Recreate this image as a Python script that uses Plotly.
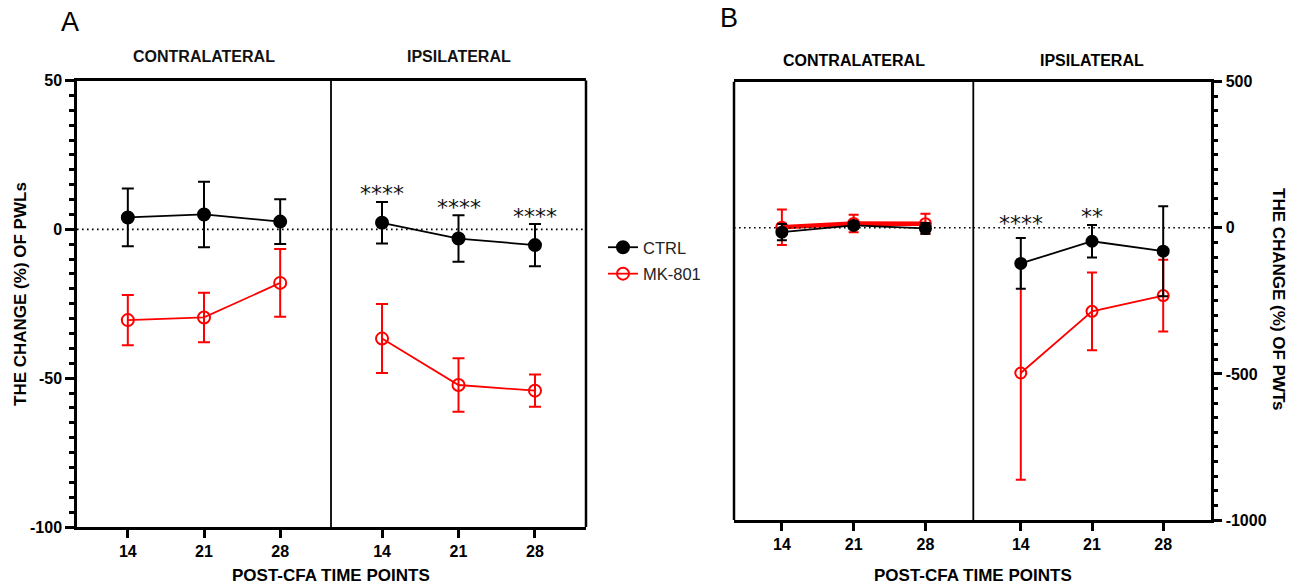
import plotly.graph_objects as go

# ---------------- data ----------------
days = [14, 21, 28]
day_labels = ["14", "21", "28"]

# Panel A (PWLs, %)
a_ctrl_contra = [4.0, 5.0, 2.6]
a_ctrl_contra_err = [9.7, 11.0, 7.5]
a_mk_contra = [-30.5, -29.6, -18.0]
a_mk_contra_err = [8.4, 8.3, 11.4]
a_ctrl_ipsi = [2.2, -3.1, -5.3]
a_ctrl_ipsi_err = [7.0, 7.8, 7.1]
a_mk_ipsi = [-36.7, -52.3, -54.2]
a_mk_ipsi_err = [11.6, 9.0, 5.4]
a_star_days = [14, 21, 28]
a_star_text = ["****", "****", "****"]
a_star_y = [12.1, 7.4, 4.4]
a_ytick_vals = [-100, -50, 0, 50]
a_ytick_text = ["-100", "-50", "0", "50"]

# Panel B (PWTs, %)
b_ctrl_contra = [-15, 8, -2]
b_ctrl_contra_err = [28, 12, 18]
b_mk_contra = [2, 15, 14]
b_mk_contra_err = [61, 30, 34]
b_ctrl_ipsi = [-122, -46, -80]
b_ctrl_ipsi_err = [87, 56, 154]
b_mk_ipsi = [-497, -286, -232]
b_mk_ipsi_err = [365, 133, 123]
b_star_days = [14, 21]
b_star_text = ["****", "**"]
b_star_y = [14, 40]
b_ytick_vals = [-1000, -500, 0, 500]
b_ytick_text = ["-1000", "-500", "0", "500"]

BLACK = "#000000"
RED = "#ff0000"
FONT = "Liberation Sans, Arial, sans-serif"
W, H = 1299, 588

fig = go.Figure()


def add_series(x, y, err, color, filled, xa, ya, name=None, legend=False, rank=1,
               lw=1.8, msize=12, ethick=2, ewidth=6, group=None):
    fig.add_trace(go.Scatter(
        x=x, y=y, mode="lines+markers", name=name, showlegend=legend,
        legendrank=rank, legendgroup=group, xaxis=xa, yaxis=ya,
        line=dict(color=color, width=lw),
        marker=dict(symbol="circle" if filled else "circle-open", size=msize,
                    color=color, line=dict(color=color, width=2)),
        error_y=dict(type="data", array=err, visible=True, color=color,
                     thickness=ethick, width=ewidth),
        hoverinfo="skip",
    ))


# Panel A
add_series(days, a_mk_contra, a_mk_contra_err, RED, False, "x", "y", "MK-801", True, 2, group="mk")
add_series(days, a_ctrl_contra, a_ctrl_contra_err, BLACK, True, "x", "y", "CTRL", True, 1, group="ctrl")
add_series(days, a_mk_ipsi, a_mk_ipsi_err, RED, False, "x2", "y")
add_series(days, a_ctrl_ipsi, a_ctrl_ipsi_err, BLACK, True, "x2", "y")

# Panel B
add_series(days, b_mk_contra, b_mk_contra_err, RED, False, "x3", "y2", lw=4.5, msize=11, ewidth=5)
add_series(days, b_ctrl_contra, b_ctrl_contra_err, BLACK, True, "x3", "y2", lw=1.8, msize=11, ewidth=5)
add_series(days, b_mk_ipsi, b_mk_ipsi_err, RED, False, "x4", "y2", msize=11, ewidth=5)
add_series(days, b_ctrl_ipsi, b_ctrl_ipsi_err, BLACK, True, "x4", "y2", msize=11, ewidth=5)

tickfont = dict(family=FONT, size=16, color=BLACK, weight="bold")


def xax(dom, anchor):
    return dict(domain=[dom[0] / W, dom[1] / W], range=[9.33, 32.67],
                tickmode="array", tickvals=days, ticktext=day_labels,
                ticks="outside", ticklen=8, tickwidth=2.5, tickcolor=BLACK,
                showline=True, linewidth=2.5, linecolor=BLACK, mirror=True,
                showgrid=False, zeroline=False, anchor=anchor, tickfont=tickfont,
                automargin=False, fixedrange=True)


def yax(dom, rng, vals, text, minor_dt, anchor, side):
    return dict(domain=[1 - dom[1] / H, 1 - dom[0] / H], range=rng,
                tickmode="array", tickvals=vals, ticktext=text,
                ticks="outside", ticklen=9, tickwidth=2.5, tickcolor=BLACK,
                minor=dict(dtick=minor_dt, tick0=0, ticks="outside", ticklen=5,
                           tickwidth=2.5, tickcolor=BLACK),
                showline=True, linewidth=2.5, linecolor=BLACK,
                showgrid=False, zeroline=False, anchor=anchor, side=side,
                tickfont=tickfont, automargin=False, fixedrange=True)


fig.update_layout(
    width=W, height=H,
    margin=dict(l=0, r=0, t=0, b=0, autoexpand=False),
    paper_bgcolor="white", plot_bgcolor="white",
    xaxis=xax((77, 331), "y"),
    xaxis2=xax((331, 586), "y"),
    xaxis3=xax((734, 973.3), "y2"),
    xaxis4=xax((973.3, 1210.7), "y2"),
    yaxis=yax((80.5, 527), [-100, 50], a_ytick_vals, a_ytick_text, 5, "x", "left"),
    yaxis2=yax((81.7, 520), [-1000, 500], b_ytick_vals, b_ytick_text, 50, "x4", "right"),
    legend=dict(x=603 / W, y=1 - 230 / H, xanchor="left", yanchor="top",
                font=dict(family=FONT, size=16.5, color="#222222"),
                bgcolor="rgba(0,0,0,0)", traceorder="grouped", tracegroupgap=2),
)

shapes = []
for xr, xv, w in [("x domain", 1, 1.8), ("x2 domain", 1, 2.5),
                  ("x3 domain", 0, 2.5), ("x3 domain", 1, 1.8)]:
    yr = "y domain" if xr in ("x domain", "x2 domain") else "y2 domain"
    shapes.append(dict(type="line", xref=xr, yref=yr, x0=xv, x1=xv, y0=0, y1=1,
                       line=dict(color=BLACK, width=w)))
for xr, yr in [("x domain", "y"), ("x2 domain", "y"), ("x3 domain", "y2"), ("x4 domain", "y2")]:
    shapes.append(dict(type="line", xref=xr, yref=yr, x0=0, x1=1, y0=0, y1=0,
                       line=dict(color=BLACK, width=1.6, dash="1.6px,3.4px")))
fig.update_layout(shapes=shapes)

ann = []


def pann(text, x, y, font, angle=0, xref="paper"):
    ann.append(dict(text=text, x=x, y=1 - y / H, xref=xref, yref="paper",
                    xanchor="center", yanchor="middle", showarrow=False,
                    textangle=angle, font=font))


pann("A", 70 / W, 22, dict(family=FONT, size=27, color=BLACK))
pann("B", 729 / W, 18, dict(family=FONT, size=27, color=BLACK))

secA = dict(family=FONT, size=16, color="#111111", weight="bold")
secB = dict(family=FONT, size=16, color=BLACK, weight="bold")
pann("CONTRALATERAL", 0.5, 57, secA, xref="x domain")
pann("IPSILATERAL", 0.5, 57, secA, xref="x2 domain")
pann("CONTRALATERAL", 0.5, 60, secB, xref="x3 domain")
pann("IPSILATERAL", 0.5, 60, secB, xref="x4 domain")

titlef = dict(family=FONT, size=17, color=BLACK, weight="bold")
pann("POST-CFA TIME POINTS", 331 / W, 575, titlef)
pann("POST-CFA TIME POINTS", 973 / W, 575, titlef)
pann("THE CHANGE (%) OF PWLs", 20 / W, 294, titlef, angle=-90)
pann("THE CHANGE (%) OF PWTs", 1279 / W, 299, titlef, angle=90)

starf = dict(family="DejaVu Sans, sans-serif", size=22, color="#111111")
for d, t, yv in zip(a_star_days, a_star_text, a_star_y):
    ann.append(dict(text=t, x=d, y=yv, xref="x2", yref="y", showarrow=False,
                    xanchor="center", yanchor="middle", font=starf))
for d, t, yv in zip(b_star_days, b_star_text, b_star_y):
    ann.append(dict(text=t, x=d, y=yv, xref="x4", yref="y2", showarrow=False,
                    xanchor="center", yanchor="middle", font=starf))

fig.update_layout(annotations=ann)

fig.write_html("out.html", config={"displayModeBar": False},
               post_script="document.body.style.margin='0';document.body.style.overflow='hidden';")
